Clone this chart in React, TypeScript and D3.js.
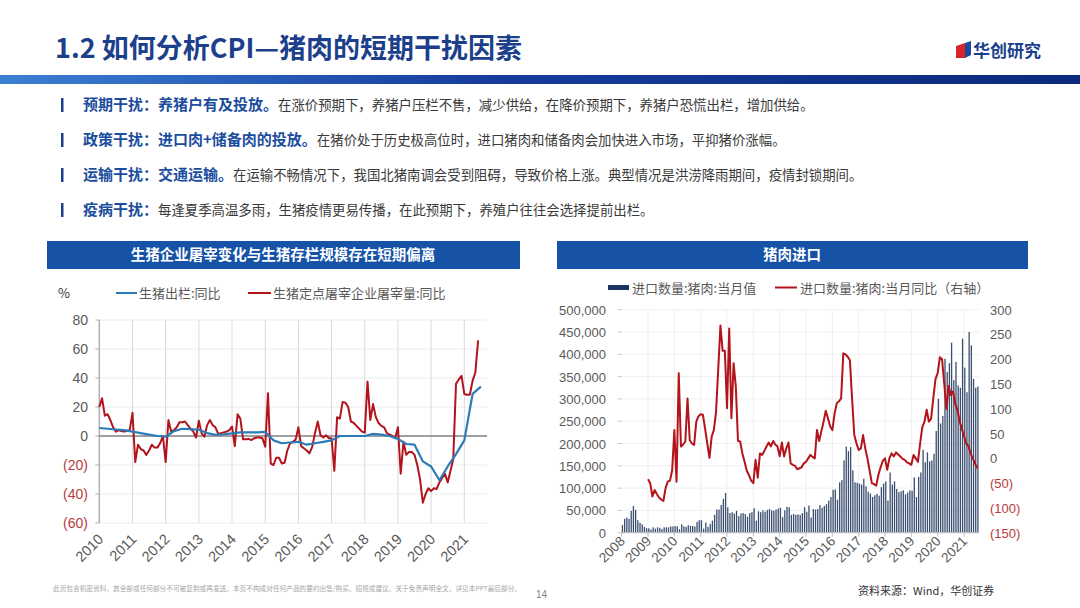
import React from 'react';
import * as d3 from 'd3';

const FONT = '"Noto Sans CJK SC", "Noto Sans", sans-serif';
const NUM_FONT = '"Liberation Sans", Arial, sans-serif';

// ---- bullets ----
const bulletHeads = ['预期干扰：养猪户有及投放。', '政策干扰：进口肉+储备肉的投放。', '运输干扰：交通运输。', '疫病干扰：'];
const bulletBodies = [
  '在涨价预期下，养猪户压栏不售，减少供给，在降价预期下，养猪户恐慌出栏，增加供给。',
  '在猪价处于历史极高位时，进口猪肉和储备肉会加快进入市场，平抑猪价涨幅。',
  '在运输不畅情况下，我国北猪南调会受到阻碍，导致价格上涨。典型情况是洪涝降雨期间，疫情封锁期间。',
  '每逢夏季高温多雨，生猪疫情更易传播，在此预期下，养殖户往往会选择提前出栏。',
];

// ---- left chart: monthly from 2010-01 ----
const slaughterStart = 2010;
const slaughterYoY = [
  20, 26, 14, 15, 11, 6, 3, 4, 3.5, 3, 3.5, 4,
  16, -18, -6, -9, -10, -13, -10, -6, -8, -8, -5, 0,
  -18, 11, 3, 4, 6, 9.5, 9.5, 10, 7.5, 5, 3, -1,
  10.5, 1.8, -0.5, 7.5, 11, 7.5, 6, 1.5, 2, 2.5, 3, 4,
  6.5, -7, 15, 12, -2.3, -2.3, -2, -2.8, -1.5, -1, -1, -1.6,
  -7.4, 29.5, -19, -20, -15, -15, -19, -18.5, -10, -5, -4, -2.5,
  6, -7, -8.5, -10, -12, -7.5, 2, 10, 0.5, -1, 0.5, -1.5,
  -1.5, -24, 13, 12, 23.5, 23, 20, 10, 9, 7, 5, 3,
  2.3, 37.5, 11, 22, 13, 9, 7, 6, 2, 1, 0, -1.5,
  6, -26, -4, -13, -11, -11, -13, -20, -30, -46, -40, -36,
  -38, -36, -36.5, -32, -29, -26, -32, -24, -16, 36, 39, 41.5,
  29, 28.5, 28.5, 38, 44, 66,
];
// quarterly from 2010Q1
const hogOutputYoY = [
  5.5, 5, 4.5, 4,
  3, 2, 1, 0,
  -0.5, 3.4, 5, 4.7,
  4.3, 2, 0.8, 1.2,
  1.8, 2.5, 2.5, 2.5,
  2.8, -3, -5, -4.5,
  -4, -6, -5, -4,
  -3, 0, 0, 0,
  0, 1.5, 1, 0,
  -2, -5.5, -6, -17.5,
  -21, -30.5, -21, -12.5,
  -3, 29, 34,
];
const leftYTicks = [80, 60, 40, 20, 0, -20, -40, -60];
const leftYears = d3.range(2010, 2022);

// ---- right chart ----
const importStart = 2008;
// thousand tonnes, monthly from 2008-01
const porkImportsK = [
  17, 31, 34, 31, 49, 60, 51, 28, 22, 19, 13, 10,
  10, 7, 12, 9, 12, 11, 8, 12, 12, 12, 14, 14,
  15, 14, 8, 19, 14, 13, 17, 15, 15, 14, 24, 28,
  28, 9, 23, 13, 20, 27, 40, 52, 52, 62, 76, 89,
  57, 44, 46, 43, 49, 37, 43, 44, 42, 36, 44, 46,
  55, 27, 48, 46, 50, 47, 51, 53, 50, 49, 52, 54,
  56, 35, 50, 58, 57, 40, 42, 40, 41, 40, 44, 57,
  47, 61, 34, 53, 52, 53, 62, 56, 60, 64, 72, 80,
  96, 97, 74, 113, 118, 162, 193, 183, 192, 140, 113, 112,
  110, 108, 121, 104, 92, 88, 80, 84, 87, 83, 102, 110,
  115, 72, 135, 108, 115, 98, 91, 93, 95, 86, 90, 95,
  94, 124, 80, 125, 135, 186, 158, 180, 160, 162, 177, 228,
  300, 245, 262, 390, 360, 380, 426, 342, 383, 330, 325, 435,
  370, 315, 450, 420, 345, 325, 328,
];
const importYoYStart = 2009;
// %, monthly from 2009-01
const porkImportsYoY = [
  -42, -50, -77, -64, -72, -79, -83, -86, -60, -47, -45, -24,
  57, -47, 172, 24, 28, 34, 121, 37, 30, 27, 74, 85,
  89, 88, 60, 30, 1, 44, 57, 94, 180, 268, 217, 217,
  101, 262, 81, 192, 145, 35, 34, 10, -7, -25, -34, -45,
  -50, -3, -39, 10, 7, 15, 24, 32, 24, 35, 28, 24,
  4, 32, 4, 20, 32, -10, -13, -15, -22, -20, -18, -10,
  -7, 0, 7, 3, 0, 57, 35, 55, 74, 96, 81, 65,
  57, 90, 111, 115, 121, 212, 210, 205, 198, 120, 47, 30,
  17, 20, 47, 20, 0, -25, -50, -52, -55, -33, -18, -5,
  0, -23, 0, 10, 4, 12, 8, 4, -1, -3, -8, -10,
  -13, 7, 0, -7, 30, 63, 74, 98, 74, 80, 121, 160,
  172, 204, 200, 150, 100, 146, 128, 135, 110, 98, 75, 60,
  45, 30, 25, 10, 0, -10, -20,
];
const rightYears = d3.range(2008, 2022);
const importTicksK = d3.range(0, 501, 50);
const yoyTicks = [300, 250, 200, 150, 100, 50, 0, -50, -100, -150];

const BLUE = '#1b3f8b';
const RED = '#b3141c';
const LINE_BLUE = '#2b7bb9';
const NEG = '#b83b3b';
const GRAY = '#595959';

const paren = (v: number) => (v < 0 ? `(${-v})` : `${v}`);

function LeftChart() {
  const x = d3.scaleLinear().domain([2010, 2021]).range([99.3, 464.3]);
  const y = d3.scaleLinear().domain([-60, 80]).range([523, 320]);
  const right = 487;
  const red = d3.line<number>().x((_, i) => x(slaughterStart + i / 12)).y(d => y(d));
  const blue = d3.line<number>().x((_, i) => x(slaughterStart + i / 4)).y(d => y(d));
  return (
    <g>
      <rect x={47} y={241} width={473} height={28} fill="#1653a6" />
      <text x={283} y={260} textAnchor="middle" fill="#fff" fontSize={14.5} fontWeight={700} fontFamily={FONT}>
        生猪企业屠宰变化与生猪存栏规模存在短期偏离
      </text>
      {/* legend */}
      <text x={58} y={298} fontSize={13} fill="#333" fontFamily={FONT}>%</text>
      <line x1={116} x2={137} y1={293} y2={293} stroke={LINE_BLUE} strokeWidth={2} />
      <text x={139} y={298} fontSize={13} fill={GRAY} fontFamily={FONT}>生猪出栏:同比</text>
      <line x1={248} x2={271} y1={293} y2={293} stroke={RED} strokeWidth={2} />
      <text x={273} y={298} fontSize={13} fill={GRAY} fontFamily={FONT}>生猪定点屠宰企业屠宰量:同比</text>
      {/* grid */}
      {leftYTicks.filter(t => t !== 0).map(t => (
        <line key={t} x1={x(2010)} x2={right} y1={y(t)} y2={y(t)} stroke="#ececec" strokeWidth={1} />
      ))}
      {leftYears.slice(1).map(yr => (
        <line key={yr} x1={x(yr)} x2={x(yr)} y1={y(80)} y2={y(-60)} stroke="#dadada" strokeWidth={1} />
      ))}
      <line x1={x(2010)} x2={x(2010)} y1={y(80)} y2={y(-60)} stroke="#b0b0b0" strokeWidth={1.5} />
      {leftYTicks.map(t => (
        <g key={t}>
          <line x1={x(2010) - 4} x2={x(2010)} y1={y(t)} y2={y(t)} stroke="#b0b0b0" />
          <text x={88} y={y(t) + 5} textAnchor="end" fontSize={14} fill={t < 0 ? NEG : GRAY} fontFamily={NUM_FONT}>
            {paren(t)}
          </text>
        </g>
      ))}
      <line x1={x(2010)} x2={right} y1={y(0)} y2={y(0)} stroke="#808080" strokeWidth={1.5} />
      <path d={red(slaughterYoY) || ''} fill="none" stroke={RED} strokeWidth={2} strokeLinejoin="round" />
      <path d={blue(hogOutputYoY) || ''} fill="none" stroke={LINE_BLUE} strokeWidth={2.2} strokeLinejoin="round" />
      {leftYears.map(yr => (
        <text key={yr} transform={`translate(${x(yr) + 5},${540}) rotate(-45)`} textAnchor="end"
          fontSize={14.5} fill={GRAY} fontFamily={NUM_FONT}>{yr}</text>
      ))}
    </g>
  );
}

function RightChart() {
  const x = d3.scaleLinear().domain([2008, 2021]).range([621.7, 964]);
  const yL = d3.scaleLinear().domain([0, 500]).range([532.7, 309.7]);
  const yR = d3.scaleLinear().domain([-150, 300]).range([532.7, 309.7]);
  const right = 979;
  const fmt = d3.format(',');
  const line = d3.line<number>().x((_, i) => x(importYoYStart + i / 12)).y(d => yR(d));
  return (
    <g>
      <rect x={557} y={241} width={471} height={28} fill="#1653a6" />
      <text x={792} y={260} textAnchor="middle" fill="#fff" fontSize={14.5} fontWeight={700} fontFamily={FONT}>
        猪肉进口
      </text>
      {/* legend */}
      <rect x={608} y={285} width={21} height={5} fill="#1c3461" />
      <text x={632} y={292.5} fontSize={13} fill={GRAY} fontFamily={FONT}>进口数量:猪肉:当月值</text>
      <line x1={775} x2={797} y1={287.5} y2={287.5} stroke={RED} strokeWidth={2} />
      <text x={800} y={292.5} fontSize={13} fill={GRAY} fontFamily={FONT}>进口数量:猪肉:当月同比（右轴）</text>
      {/* grid */}
      {importTicksK.slice(1).map(t => (
        <line key={t} x1={x(2008)} x2={right} y1={yL(t)} y2={yL(t)} stroke="#efefef" />
      ))}
      {rightYears.slice(1).map(yr => (
        <line key={yr} x1={x(yr)} x2={x(yr)} y1={yL(500)} y2={yL(0)} stroke="#efefef" />
      ))}
      {importTicksK.map(t => (
        <g key={t}>
          <line x1={x(2008) - 4} x2={x(2008)} y1={yL(t)} y2={yL(t)} stroke="#c8c8c8" />
          <text x={606} y={yL(t) + 5} textAnchor="end" fontSize={13} fill={GRAY} fontFamily={NUM_FONT}>
            {fmt(t * 1000)}
          </text>
        </g>
      ))}
      {yoyTicks.map(t => (
        <text key={t} x={990} y={yR(t) + 5} fontSize={13} fill={t < 0 ? NEG : GRAY} fontFamily={NUM_FONT}>
          {paren(t)}
        </text>
      ))}
      {porkImportsK.map((v, i) => (
        <rect key={i} x={x(importStart + i / 12) + 0.1} y={yL(v)} width={1.3} height={yL(0) - yL(v)} fill="#3a4f70" />
      ))}
      <line x1={x(2008)} x2={right} y1={yL(0)} y2={yL(0)} stroke="#bdbdbd" strokeWidth={1.2} />
      {rightYears.map(yr => (
        <line key={yr} x1={x(yr)} x2={x(yr)} y1={yL(0)} y2={yL(0) + 4} stroke="#bdbdbd" />
      ))}
      <path d={line(porkImportsYoY) || ''} fill="none" stroke={RED} strokeWidth={2} strokeLinejoin="round" />
      {rightYears.map(yr => (
        <text key={yr} transform={`translate(${x(yr) + 4},${542}) rotate(-45)`} textAnchor="end"
          fontSize={13.5} fill={GRAY} fontFamily={NUM_FONT}>{yr}</text>
      ))}
      <text x={858} y={595} fontSize={11} fill="#333" fontFamily={FONT}>资料来源：Wind，华创证券</text>
    </g>
  );
}

export default function App() {
  return (
    <svg width={1080} height={608} viewBox="0 0 1080 608"
      style={{ position: 'absolute', left: 0, top: 0, background: '#fff' }}>
      <defs>
        <linearGradient id="band" x1="0" x2="1" y1="0" y2="0">
          <stop offset="0" stopColor="#3c80d2" />
          <stop offset="0.45" stopColor="#163c9c" />
          <stop offset="1" stopColor="#0b2a7c" />
        </linearGradient>
      </defs>
      <rect width={1080} height={608} fill="#fff" />
      <text x={55} y={58} fontSize={27} fontWeight={700} fill={BLUE} fontFamily={FONT}>
        1.2 如何分析CPI—猪肉的短期干扰因素
      </text>
      <polygon points="956,46 965,43 965,58 956,58" fill="#d6262b" />
      <polygon points="965,43 971,41 971,55 965,58" fill="#1b4a9c" />
      <text x={973} y={57} fontSize={17} fontWeight={700} fill={BLUE} fontFamily={FONT}>华创研究</text>
      <rect x={0} y={75} width={1080} height={9} fill="url(#band)" />
      {bulletHeads.map((h, i) => {
        const cy = 105 + i * 35;
        return (
          <g key={i}>
            <rect x={61} y={cy - 7} width={2.5} height={14} fill={BLUE} />
            <text x={83} y={cy + 5} fontFamily={FONT}>
              <tspan fontSize={15} fontWeight={700} fill="#1a4d9e">{h}</tspan>
              <tspan fontSize={13.4} fill="#3a3a3a">{bulletBodies[i]}</tspan>
            </text>
          </g>
        );
      })}
      <LeftChart />
      <RightChart />
      <text x={53} y={591} fontSize={6.7} fill="#a6a6a6" fontFamily={FONT} textLength={468}>
        此页包含机密资料，其全部或任何部分不可被复制或再发送。本页不构成对任何产品的要约出售/购买、招揽或建议。关于免责声明全文，详见本PPT最后部分。
      </text>
      <text x={536} y={598} fontSize={10} fill="#7f7f7f" fontFamily={NUM_FONT}>14</text>
    </svg>
  );
}
